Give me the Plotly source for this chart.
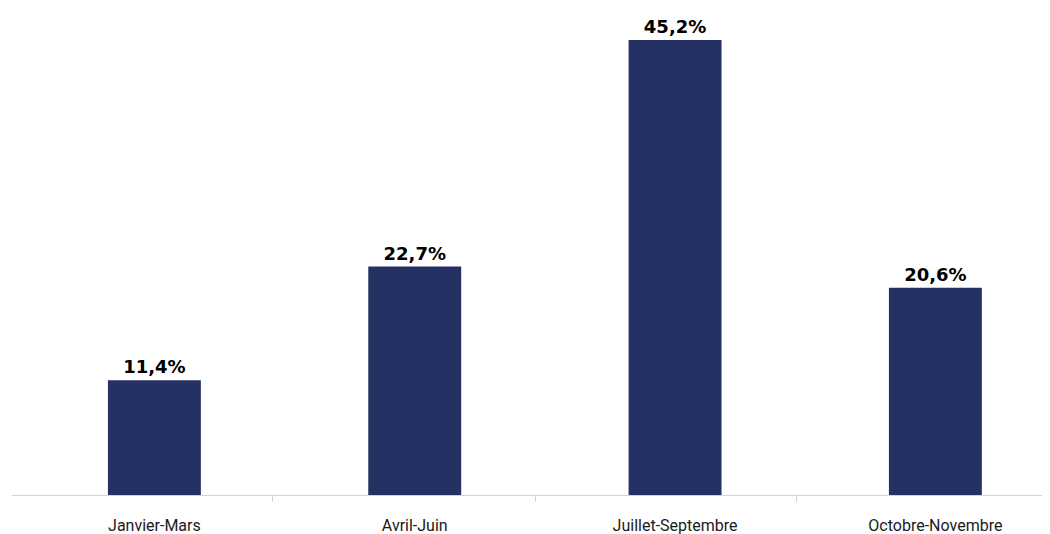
import plotly.graph_objects as go

categories = ["Janvier-Mars", "Avril-Juin", "Juillet-Septembre", "Octobre-Novembre"]
values = [11.4, 22.7, 45.2, 20.6]
labels = ["11,4%", "22,7%", "45,2%", "20,6%"]
boundaries = [0.455, 1.462, 2.468]

positions = list(range(len(categories)))

fig = go.Figure(go.Bar(
    x=positions, y=values, text=labels, textposition="outside",
    marker=dict(color="#253163", line=dict(width=0)),
    width=0.357, cliponaxis=False,
    textfont=dict(family="DejaVu Sans", size=18, color="#000000", weight="bold"),
    hoverinfo="skip",
))

fig.update_layout(
    width=1050, height=526,
    margin=dict(l=4, r=0, t=0, b=39),
    paper_bgcolor="white", plot_bgcolor="white",
    showlegend=False,
    xaxis=dict(
        range=[-0.547, 3.471],
        tickmode="array", tickvals=positions, ticktext=categories,
        ticks="", showgrid=False, zeroline=False,
        showline=True, linecolor="#d3d3d3", linewidth=1,
        tickfont=dict(family="Roboto", size=16, color="#1a1a1a"),
        ticklabelstandoff=16,
        minor=dict(tickmode="array", tickvals=boundaries, ticks="outside",
                   ticklen=6, tickcolor="#d3d3d3", tickwidth=1, showgrid=False),
    ),
    yaxis=dict(range=[0, 48.38], visible=False, showgrid=False, zeroline=False),
)

fig.write_html("out.html")
